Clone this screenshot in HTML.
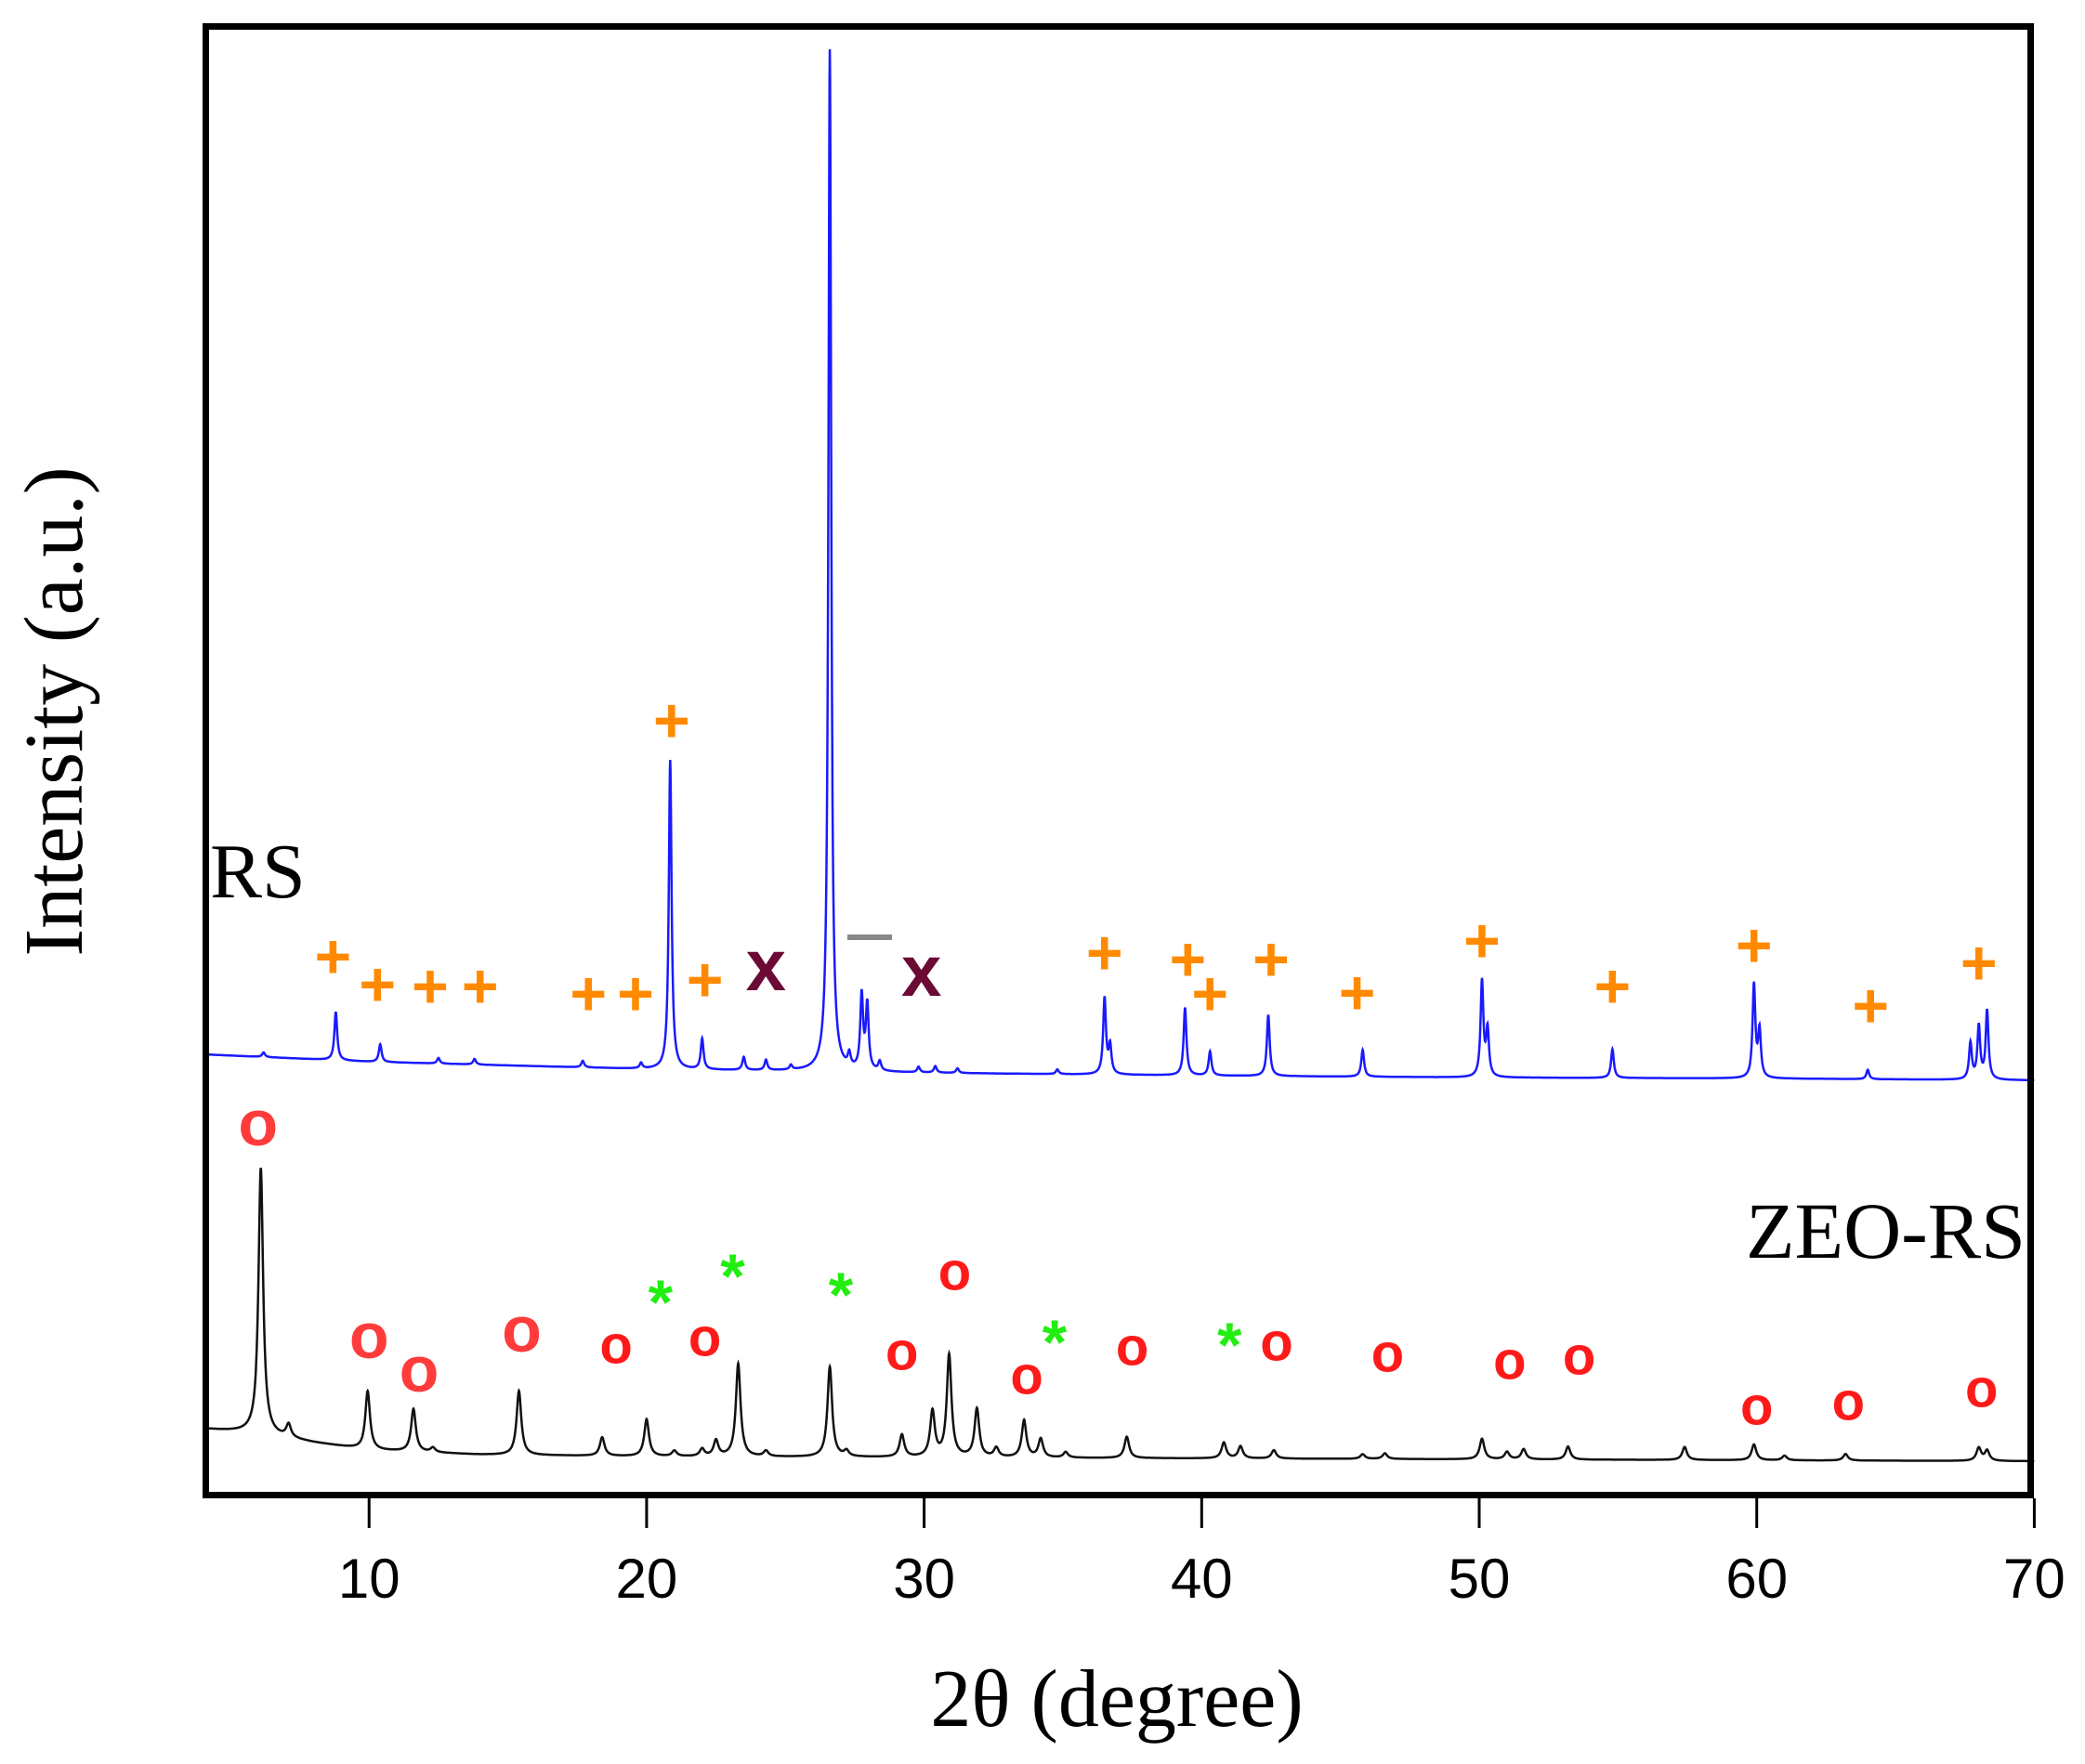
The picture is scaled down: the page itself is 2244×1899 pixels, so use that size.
<!DOCTYPE html>
<html><head><meta charset="utf-8"><style>
html,body{margin:0;padding:0;background:#fff;}
svg{display:block;}
</style></head><body>
<svg id="chart" width="2244" height="1899" viewBox="0 0 2244 1899" xmlns="http://www.w3.org/2000/svg">
<g id="plot"></g>
<rect x="221.5" y="28.5" width="1964" height="1581" fill="none" stroke="#000" stroke-width="7"/>
<g id="xaxis"></g>
<text x="1202" y="1858" font-family="Liberation Serif, serif" font-size="88" text-anchor="middle">2θ (degree)</text>
<text transform="translate(88,766) rotate(-90)" font-family="Liberation Serif, serif" font-size="90" text-anchor="middle">Intensity (a.u.)</text>
<text x="226" y="966" font-family="Liberation Serif, serif" font-size="84">RS</text>
<text x="2180" y="1354" font-family="Liberation Serif, serif" font-size="86" text-anchor="end">ZEO-RS</text>
<g id="markers"></g>
</svg>
<script>
const xTicks = [10,20,30,40,50,60,70];
const rsBaseX = [4,10,20,30,40,50,60,70];
const rsBaseY = [478,470,462,458,455,453,452,450];
const rsPeakPos = [6.2,8.8,10.4,12.5,13.8,17.7,19.8,20.85,22.0,23.5,24.3,25.2,26.6,27.3,27.75,27.95,28.4,29.8,30.4,31.2,34.8,36.5,36.7,39.4,40.3,42.4,45.8,50.1,50.3,54.8,59.9,60.1,64.0,67.7,68.0,68.3];
const rsPeakH = [5,52,19,6,6,7,6,333,33,14,11,5,1100,14,80,70,10,6,7,5,5,82,30,73,26,66,29,103,50,31,100,50,10,39,57,74];
const zeoBaseX = [4,6,8,10,14,20,30,40,50,60,70];
const zeoBaseY = [75,70,60,52,47,45,44,43,42,41,40];
const zeoPeakPos = [6.1,7.1,9.95,11.6,12.3,15.4,18.4,20.0,21.0,22.0,22.5,23.3,24.3,26.6,27.2,29.2,30.3,30.9,31.9,32.6,33.6,34.2,35.1,37.3,40.8,41.4,42.6,45.8,46.6,50.1,51.0,51.6,53.2,57.4,59.9,61.0,63.2,68.0,68.3];
const zeoPeakH = [286,14,63,46,5,69,20,40,6,8,17,100,6,97,6,24,49,110,52,10,40,20,6,23,17,13,9,5,6,22,8,11,14,14,17,5,7,14,11];
const plusPos = [[8.7,1030],[10.3,1060],[12.2,1062],[14.0,1062],[17.9,1070],[19.6,1070],[22.1,1055],[20.9,776],[36.5,1026],[39.5,1033],[40.3,1070],[42.5,1033],[45.6,1069],[50.1,1013],[54.8,1062],[59.9,1018],[64.1,1083],[68.0,1037]];
const xPos = [[24.3,1047],[29.9,1053]];
const oPos = [[6.0,1209,1],[10.0,1438,1],[11.8,1474,1],[15.5,1431,1],[18.9,1448,0],[22.1,1440,0],[29.2,1455,0],[31.1,1369,0],[33.7,1481,0],[37.5,1450,0],[42.7,1445,0],[46.7,1457,0],[51.1,1465,0],[53.6,1460,0],[60.0,1514,0],[63.3,1509,0],[68.1,1495,0]];
const starPos = [[20.5,1392],[23.1,1364],[27.0,1384],[34.7,1435],[41.0,1438]];

const NS='http://www.w3.org/2000/svg';
const x = v => 218 + (v-4)*29.87;
const y = v => 1613 - v;
function interp(xs,ys,v){for(let i=0;i<xs.length-1;i++){if(v<=xs[i+1]){const t=(v-xs[i])/(xs[i+1]-xs[i]);return ys[i]+t*(ys[i+1]-ys[i]);}}return ys[ys.length-1];}
function curve(bx,by,pp,ph,hw){let d='';for(let v=4;v<=70.0001;v+=0.01){let s=interp(bx,by,v);for(let i=0;i<pp.length;i++){const dd=(v-pp[i])/hw;s+=ph[i]/(1+dd*dd);}d+=(d?'L':'M')+x(v).toFixed(1)+','+y(s).toFixed(1);}return d;}
const plot=document.getElementById('plot');
const p1=document.createElementNS(NS,'path');
p1.setAttribute('d',curve(rsBaseX,rsBaseY,rsPeakPos,rsPeakH,0.06));
p1.setAttribute('fill','none');p1.setAttribute('stroke','#1a1aff');p1.setAttribute('stroke-width','2.5');


plot.appendChild(p1);
const p2=document.createElementNS(NS,'path');
p2.setAttribute('d',curve(zeoBaseX,zeoBaseY,zeoPeakPos,zeoPeakH,0.1));
p2.setAttribute('fill','none');p2.setAttribute('stroke','#111');p2.setAttribute('stroke-width','2.5');


plot.appendChild(p2);

const xa=document.getElementById('xaxis');
xTicks.forEach(t=>{
 const l=document.createElementNS(NS,'line');
 l.setAttribute('x1',x(t));l.setAttribute('x2',x(t));l.setAttribute('y1',1613);l.setAttribute('y2',1645);
 l.setAttribute('stroke','#000');l.setAttribute('stroke-width','3');
 
 
 xa.appendChild(l);
 const tx=document.createElementNS(NS,'text');
 tx.setAttribute('x',x(t));tx.setAttribute('y',1720);tx.setAttribute('text-anchor','middle');
 tx.setAttribute('font-family','Liberation Sans, sans-serif');tx.setAttribute('font-size','60');
 tx.textContent=t;
 
 
 xa.appendChild(tx);
});

const mk=document.getElementById('markers');
function addText(cx,cy,str,color,size,weight,name){
 const t=document.createElementNS(NS,'text');
 t.setAttribute('x',cx);t.setAttribute('y',cy);t.setAttribute('text-anchor','middle');t.setAttribute('dominant-baseline','central');
 t.setAttribute('font-family','Liberation Sans, sans-serif');t.setAttribute('font-size',size);t.setAttribute('font-weight',weight);
 t.setAttribute('fill',color);t.textContent=str;
 
 
 mk.appendChild(t);
}
plusPos.forEach(p=>addText(x(p[0]),p[1],'+','#ff8a00',68,'bold','plus-marker'));
xPos.forEach(p=>addText(x(p[0]),p[1]-8,'x','#6b0a35',78,'bold','x-marker'));
oPos.forEach(p=>addText(x(p[0]),p[1],'o',p[2]?'#ff3b3b':'#ff1a1a',p[2]?70:58,'bold','o-marker'));
starPos.forEach(p=>addText(x(p[0]),p[1]+10,'*','#22ee11',68,'bold','star-marker'));
const dash=document.createElementNS(NS,'line');
dash.setAttribute('x1',912);dash.setAttribute('x2',960);dash.setAttribute('y1',1009);dash.setAttribute('y2',1009);
dash.setAttribute('stroke','#888');dash.setAttribute('stroke-width','6');


mk.appendChild(dash);
</script>
</body></html>
